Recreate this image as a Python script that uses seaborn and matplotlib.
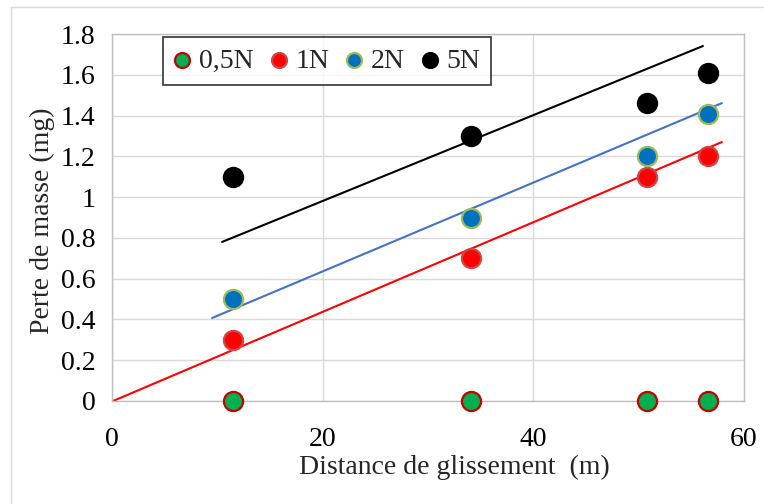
import matplotlib
matplotlib.use("Agg")
import matplotlib.pyplot as plt
import seaborn as sns
import pandas as pd
from matplotlib.patches import Rectangle

# Sliding distance (m) and mass loss (mg) for each normal load
distance = [11.5, 34.1, 50.8, 56.6]
loads = ["0,5N", "1N", "2N", "5N"]
loss_05N = [0.0, 0.0, 0.0, 0.0]
loss_1N = [0.3, 0.7, 1.1, 1.2]
loss_2N = [0.5, 0.9, 1.2, 1.41]
loss_5N = [1.1, 1.3, 1.46, 1.61]

# Trend lines (start/end) for 1N, 2N, 5N
trend_x_1N = [0.1, 57.9]
trend_y_1N = [0.0, 1.27]
trend_x_2N = [9.5, 57.9]
trend_y_2N = [0.407, 1.461]
trend_x_5N = [10.45, 56.1]
trend_y_5N = [0.78, 1.741]

x_ticks = [0, 20, 40, 60]
y_ticks = [0, 0.2, 0.4, 0.6, 0.8, 1, 1.2, 1.4, 1.6, 1.8]
y_tick_labels = ["0", "0.2", "0.4", "0.6", "0.8", "1", "1.2", "1.4", "1.6", "1.8"]

sns.set_theme(style="white")
plt.rcParams["font.family"] = ["Liberation Serif", "DejaVu Serif"]

FS = 20

fig = plt.figure(figsize=(7.64, 5.04), dpi=100)
ax = fig.add_axes([112 / 764, 1 - 401 / 504, 632 / 764, 367 / 504])

# outer chart frame
fig.patches.append(Rectangle((11 / 764, -0.1), 1.2, 1 - 7 / 504 + 0.1,
                             transform=fig.transFigure, fill=False,
                             edgecolor="#D9D9D9", linewidth=1.0, zorder=0))

# trend lines
for tx, ty, col in [(trend_x_1N, trend_y_1N, "#FF0000"),
                    (trend_x_2N, trend_y_2N, "#4472C4"),
                    (trend_x_5N, trend_y_5N, "#000000")]:
    sns.lineplot(x=tx, y=ty, color=col, linewidth=1.5, ax=ax, zorder=2,
                 legend=False)

series = [
    (loss_05N, "#00B050", "#C00000"),
    (loss_1N, "#FF0000", "#D04545"),
    (loss_2N, "#0070C0", "#9BBB59"),
    (loss_5N, "#000000", "#000000"),
]
for name, (vals, face, edge) in zip(loads, series):
    df = pd.DataFrame({"d": distance, "m": vals})
    sns.scatterplot(data=df, x="d", y="m", s=190, color=face,
                    edgecolor=edge, linewidth=1.6, ax=ax, zorder=3,
                    label=name, clip_on=False)

ax.set_xlim(0, 60)
ax.set_ylim(0, 1.8)
ax.set_xticks(x_ticks)
ax.set_yticks(y_ticks)
ax.set_yticklabels(y_tick_labels)
ax.tick_params(axis="both", labelsize=FS, length=0, colors="black")
ax.tick_params(axis="x", pad=19)
ax.tick_params(axis="y", pad=12)
ax.grid(True, color="#D9D9D9", linewidth=1.0)
ax.set_axisbelow(True)
for sp in ax.spines.values():
    sp.set_visible(True)
    sp.set_color("#BFBFBF")
    sp.set_linewidth(1.0)

ax.set_xlabel("Distance de glissement  (m)", fontsize=FS)
ax.xaxis.label.set_va("center")
ax.xaxis.set_label_coords(0.541, -0.18)
ax.set_ylabel("Perte de masse (mg)", fontsize=FS)
ax.yaxis.label.set_va("center")
ax.yaxis.set_label_coords(-0.11, 0.49)

leg = ax.legend(loc="upper left", bbox_to_anchor=(0.0807, 0.9918), ncol=4,
                fontsize=FS, frameon=True, fancybox=False,
                handlelength=0.6, handletextpad=0.3, columnspacing=0.6,
                borderpad=0.4, borderaxespad=0.0, markerscale=0.78)
leg.get_frame().set_edgecolor("black")
leg.get_frame().set_linewidth(1.2)

fig.savefig("out.png", dpi=100)
